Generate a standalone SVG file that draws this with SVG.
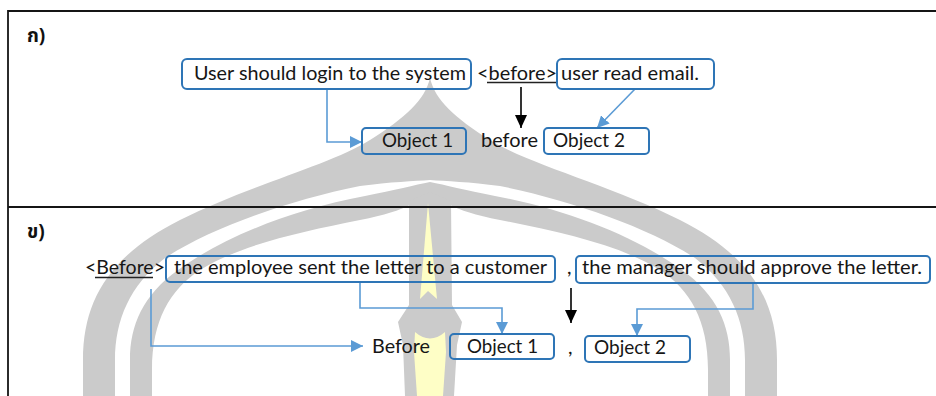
<svg xmlns="http://www.w3.org/2000/svg" width="936" height="396" viewBox="0 0 936 396">
  <style>
    .frame { stroke: #151515; stroke-width: 1.8; fill: none; }
    .box { fill: none; stroke: #2e75b6; stroke-width: 2; }
    .txt { font-family: "Lato", "Liberation Sans", sans-serif; font-size: 20px; fill: #161616; }
    .thai { font-family: "Noto Sans Thai", "Noto Sans", "DejaVu Sans", sans-serif; font-size: 19px; font-weight: bold; fill: #111; }
    .link { fill: none; stroke: #5b9bd5; stroke-width: 1.6; }
    .flow { fill: none; stroke: #000; stroke-width: 1.6; }
    .uline { stroke: #222; stroke-width: 1.3; }
    .emb { fill: #cbcbcb; }
    .core { fill: #fefec6; }
  </style>
  <defs>
    <marker id="blueHead" markerUnits="userSpaceOnUse" markerWidth="12" markerHeight="12" refX="12" refY="6" orient="auto">
      <path d="M0,0 L12,6 L0,12 Z" fill="#5b9bd5"/>
    </marker>
    <marker id="blackHead" markerUnits="userSpaceOnUse" markerWidth="13" markerHeight="12" refX="13" refY="6" orient="auto">
      <path d="M0,0 L13,6 L0,12 Z" fill="#000"/>
    </marker>
  </defs>

  <rect width="936" height="396" fill="#fff"/>

  <!-- background emblem: two arched bands and a central spire -->
  <g id="emblem">
    <path class="emb" d="M83,396 L83,360 C83,300 110,255 180,220 C250,185 330,165 370,140 C405,118 425,100 430,78
      C435,100 455,118 490,140 C530,165 610,185 680,220 C750,255 777,300 777,360 L777,396 L745,396
      L745,360 C745,320 730,285 695,258 C650,228 570,200 500,186 C470,182 445,181 430,180
      C415,181 390,182 360,186 C290,200 210,228 165,258 C130,285 115,320 115,360 L115,396 Z"/>
    <path class="emb" d="M130,396 L130,360 C130,325 143,295 178,270 C222,238 290,210 365,196 C395,190 415,185 430,182
      C445,185 465,190 495,196 C570,210 638,238 682,270 C717,295 730,325 730,360 L730,396 L708,396
      L708,370 C708,320 690,290 660,270 C620,245 560,232 500,220 C475,215 460,210 450,205
      L430,196 L410,205 C400,210 385,215 360,220 C300,232 240,245 200,270 C170,290 152,320 152,370 L152,396 Z"/>
    <path class="emb" d="M430,192 L451,201 L452,305 L462,322 L457,345 L454,396 L405,396 L403,345 L398,322 L409,305 L409,201 Z"/>
    <path class="core" d="M428,203 L437,299 L428,291 L420,299 Z"/>
    <path class="core" d="M415,332 Q430,345 445,332 L446,352 L443,396 L417,396 L414,352 Z"/>
  </g>

  <!-- panel frame and divider -->
  <g id="frame">
    <path class="frame" d="M8,396 L8,11 L936,11"/>
    <line class="frame" x1="8" y1="207" x2="936" y2="207"/>
  </g>

  <g id="label-a"><text class="thai" x="27" y="42">ก)</text></g>
  <g id="label-b"><text class="thai" x="27" y="238">ข)</text></g>

  <!-- connectors -->
  <g id="connectors">
    <path class="link" d="M327,89 L327,142 L362,142" marker-end="url(#blueHead)"/>
    <path class="link" d="M635,89 L597,128" marker-end="url(#blueHead)"/>
    <path class="flow" d="M521,87 L521,128" marker-end="url(#blackHead)"/>
    <path class="link" d="M151,289 L151,346 L363,346" marker-end="url(#blueHead)"/>
    <path class="link" d="M360,282 L360,308 L502,308 L502,334" marker-end="url(#blueHead)"/>
    <path class="link" d="M753,283 L753,309 L637,309 L637,336" marker-end="url(#blueHead)"/>
    <path class="flow" d="M571,288 L571,323" marker-end="url(#blackHead)"/>
  </g>

  <!-- part a -->
  <g id="cond-a1">
    <rect class="box" x="182" y="59" width="289" height="30" rx="5"/>
    <text class="txt" x="194" y="80" textLength="272" lengthAdjust="spacingAndGlyphs">User should login to the system</text>
  </g>
  <g id="kw-a">
    <text class="txt" x="477" y="80" textLength="80" lengthAdjust="spacingAndGlyphs">&lt;before&gt;</text>
    <line class="uline" x1="487" y1="82.5" x2="557" y2="82.5"/>
  </g>
  <g id="cond-a2">
    <rect class="box" x="557" y="59" width="157" height="30" rx="5"/>
    <text class="txt" x="561" y="80" textLength="138" lengthAdjust="spacingAndGlyphs">user read email.</text>
  </g>
  <g id="obj-a1">
    <rect class="box" x="362" y="128" width="104" height="26" rx="4"/>
    <text class="txt" x="382" y="147" textLength="71" lengthAdjust="spacingAndGlyphs">Object 1</text>
  </g>
  <g id="rel-a">
    <text class="txt" x="481" y="147" textLength="57" lengthAdjust="spacingAndGlyphs">before</text>
  </g>
  <g id="obj-a2">
    <rect class="box" x="544" y="128" width="105" height="26" rx="4"/>
    <text class="txt" x="553" y="147" textLength="72" lengthAdjust="spacingAndGlyphs">Object 2</text>
  </g>

  <!-- part b -->
  <g id="kw-b">
    <text class="txt" x="85" y="274" textLength="80" lengthAdjust="spacingAndGlyphs">&lt;Before&gt;</text>
    <line class="uline" x1="95" y1="277.5" x2="153" y2="277.5"/>
  </g>
  <g id="cond-b1">
    <rect class="box" x="166" y="256" width="389" height="26" rx="4"/>
    <text class="txt" x="174" y="274" textLength="373" lengthAdjust="spacingAndGlyphs">the employee sent the letter to a customer</text>
  </g>
  <g id="sep-b1"><text class="txt" x="567" y="274">,</text></g>
  <g id="cond-b2">
    <rect class="box" x="576" y="256" width="354" height="27" rx="4"/>
    <text class="txt" x="582" y="274" textLength="340" lengthAdjust="spacingAndGlyphs">the manager should approve the letter.</text>
  </g>
  <g id="rel-b">
    <text class="txt" x="372" y="353" textLength="58" lengthAdjust="spacingAndGlyphs">Before</text>
  </g>
  <g id="obj-b1">
    <rect class="box" x="450" y="334" width="104" height="25" rx="4"/>
    <text class="txt" x="467" y="353" textLength="71" lengthAdjust="spacingAndGlyphs">Object 1</text>
  </g>
  <g id="sep-b2"><text class="txt" x="568" y="354">,</text></g>
  <g id="obj-b2">
    <rect class="box" x="585" y="336" width="105" height="26" rx="4"/>
    <text class="txt" x="594" y="354" textLength="72" lengthAdjust="spacingAndGlyphs">Object 2</text>
  </g>
</svg>
